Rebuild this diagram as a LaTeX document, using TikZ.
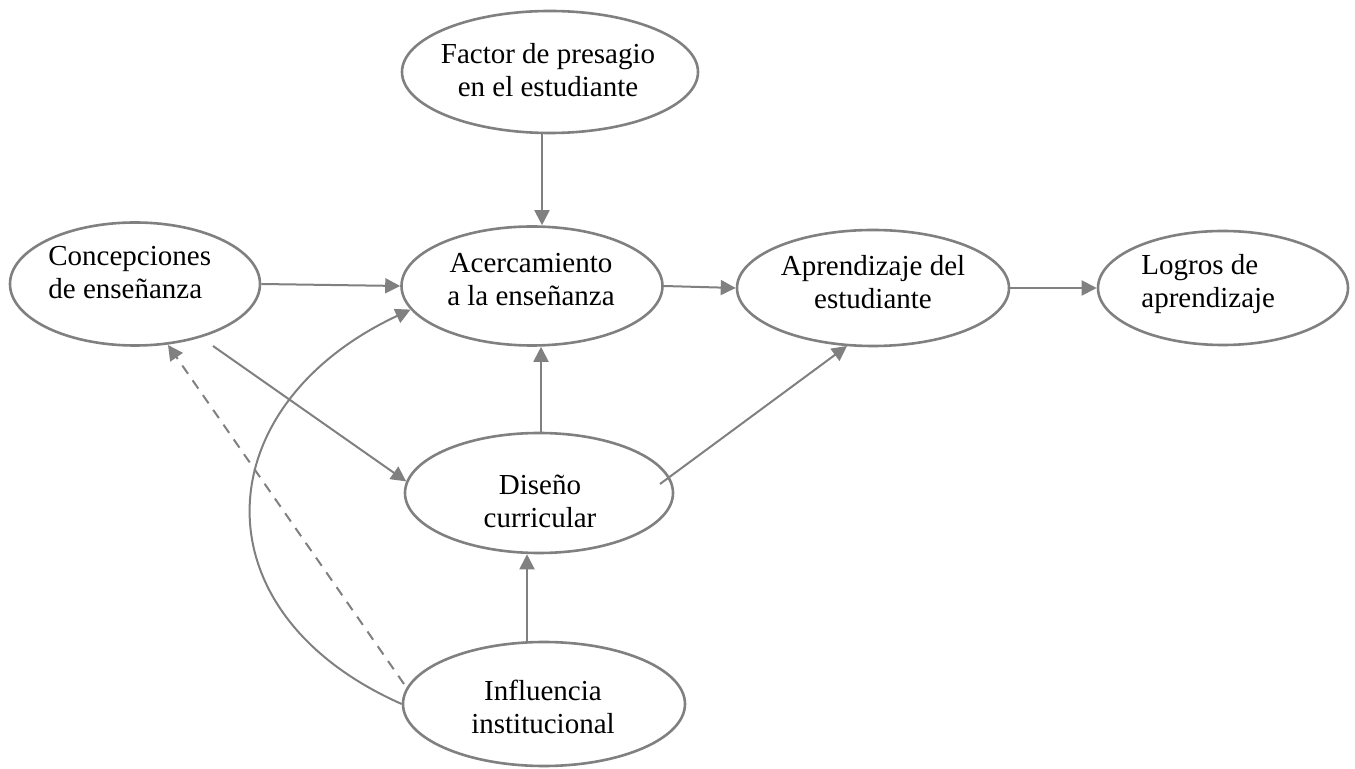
\documentclass[tikz,border=0pt]{standalone}
\usepackage{fontspec}
\setmainfont{Liberation Serif}
\usetikzlibrary{shapes.geometric,arrows.meta}
\definecolor{linegray}{RGB}{128,128,128}
\tikzset{
  oval/.style n args={2}{draw=linegray, line width=1.3pt, ellipse, inner sep=0pt,
    minimum width={#1*0.5pt}, minimum height={#2*0.5pt}},
  lbl/.style={font=\fontsize{14.5pt}{16.5pt}\selectfont, inner sep=0pt, align=center},
  lbll/.style={lbl, align=left, anchor=west},
  arr/.style={draw=linegray, line width=1pt, -{Triangle[length=7.5pt,width=7.5pt]}},
  darr/.style={arr, dashed, dash pattern=on 5pt off 4pt},
}
\begin{document}
\begin{tikzpicture}[x=0.5pt, y=-0.5pt]
  \useasboundingbox (0,0) rectangle (1355,769);

  % ovals
  \node[oval={296}{122}] (fac)  at (550,72)  {};
  \node[oval={261}{119}] (acer) at (532,286) {};
  \node[oval={250}{123}] (conc) at (135,284) {};
  \node[oval={272}{116}] (apr)  at (873,288) {};
  \node[oval={250}{114}] (log)  at (1223,288) {};
  \node[oval={268}{120}] (dis)  at (539,493) {};
  \node[oval={282}{124}] (inf)  at (544,704) {};

  % labels
  \node[lbl]  (facT)  at (548,70)  {Factor de presagio\\en el estudiante};
  \node[lbl]  (acerT) at (531,280) {Acercamiento\\a la enseñanza};
  \node[lbll] (concT) at (48,273)  {Concepciones\\de enseñanza};
  \node[lbl]  (aprT)  at (873,282) {Aprendizaje del\\estudiante};
  \node[lbll] (logT)  at (1141,284) {Logros de\\aprendizaje};
  \node[lbl]  (disT)  at (540,501) {Diseño\\curricular};
  \node[lbl]  (infT)  at (543,707) {Influencia\\institucional};

  % helper points
  \coordinate (xA) at (542,0);
  \coordinate (xB) at (541,0);
  \coordinate (xC) at (527,0);
  \coordinate (c1) at (213,346);
  \coordinate (d1) at (660,484);
  \coordinate (a1) at (847,346);
  \coordinate (i1) at (404,684);
  \coordinate (c2) at (168,345);

  % connectors
  \draw[arr] (fac.south -| xA) -- (acer.north -| xA);
  \draw[arr] (conc.east) -- (acer.west);
  \draw[arr] (acer.east) -- (apr.west);
  \draw[arr] (apr.east) -- (log.west);
  \draw[arr] (c1) -- (dis.175);
  \draw[arr] (dis.north -| xB) -- (acer.south -| xB);
  \draw[arr] (d1) -- (a1);
  \draw[arr] (inf.north -| xC) -- (dis.south -| xC);
  \draw[darr] (i1) -- (c2);
  \draw[arr] (inf.west) .. controls +(-208,-92) and +(-205,96) .. (acer.191);
\end{tikzpicture}
\end{document}
